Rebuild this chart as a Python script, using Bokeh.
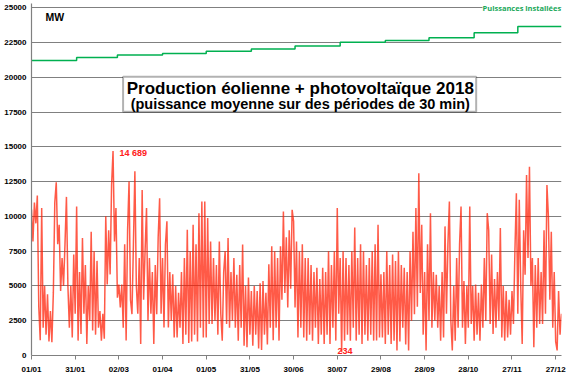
from bokeh.plotting import figure
from bokeh.models import FixedTicker, Label, BoxAnnotation, Range1d
from bokeh.embed import file_html
from bokeh.resources import INLINE

# ---- data ----
# daily samples of the half-hourly production, alternating highs and lows (MW)
prod_mw = [
    10500, 8200, 11000, 9500, 11500, 3500, 1100, 10600, 2000, 5000,
    1500, 4400, 1000, 3200, 950, 4500, 11000, 12450, 8000, 9400,
    4640, 7000, 5000, 8000, 11400, 5000, 2000, 5000, 1300, 7260,
    3000, 10700, 1070, 6000, 1550, 8450, 3000, 6500, 830, 5000,
    2500, 8900, 1800, 7500, 1500, 6800, 2000, 3200, 1070, 3000,
    1200, 10000, 5100, 9000, 5830, 12250, 14689, 8200, 10600, 4160,
    5100, 3450, 5100, 2000, 8000, 1070, 9000, 12500, 4000, 2970,
    8000, 13250, 5000, 3000, 7000, 830, 11900, 4000, 7500, 10600,
    2500, 7000, 3000, 6000, 830, 6500, 2970, 8500, 11300, 3000,
    7000, 2020, 8000, 9640, 2020, 6000, 2500, 5830, 1300, 5000,
    1300, 4500, 2000, 6000, 830, 7000, 1500, 9040, 900, 7500,
    1000, 9400, 1500, 8000, 1000, 10230, 2000, 11070, 1300, 11070,
    1300, 9880, 2260, 8200, 2260, 7000, 2500, 6500, 1500, 8200,
    3000, 1070, 6000, 7500, 2260, 8450, 2000, 6000, 2500, 7000,
    2000, 5800, 1070, 6500, 2000, 7970, 700, 5000, 600, 5600,
    1500, 4640, 700, 5000, 1500, 4640, 500, 5200, 400, 5360,
    1500, 4500, 800, 6550, 2000, 7850, 1100, 7500, 2000, 7000,
    1070, 7850, 4000, 10350, 4500, 8500, 3450, 9000, 4800, 10470,
    9640, 3450, 8200, 1300, 7500, 2000, 8000, 1300, 7000, 1070,
    7000, 1500, 6500, 1070, 6000, 2000, 6300, 830, 5500, 1500,
    6300, 830, 6000, 1500, 7500, 830, 6500, 2000, 7500, 1070,
    10600, 3000, 7000, 234, 7500, 1070, 7000, 1500, 6500, 1070,
    7500, 2000, 9200, 1070, 7000, 1500, 8000, 830, 7500, 1500,
    6500, 1070, 7000, 1500, 7500, 1070, 8000, 1070, 9400, 1300,
    5830, 1300, 6000, 830, 7500, 1500, 6500, 830, 7260, 1070,
    6800, 360, 7500, 1000, 6500, 2000, 6300, 800, 6000, 360,
    7500, 2500, 8900, 2970, 10600, 3500, 13100, 4500, 9400, 1500,
    6000, 360, 8000, 2500, 10230, 2000, 6000, 2500, 5800, 2000,
    5000, 1070, 6000, 1300, 9280, 3000, 8000, 11070, 2500, 360,
    5000, 1070, 7000, 2000, 8000, 10700, 2000, 5360, 830, 5000,
    2000, 10700, 2260, 5000, 1070, 5100, 1500, 4500, 1070, 5100,
    2000, 7000, 2500, 10230, 9000, 2260, 7260, 1550, 5500, 2000,
    6000, 2500, 9160, 1300, 5000, 1070, 4640, 1300, 4000, 1500,
    4640, 2260, 7500, 11660, 3000, 11200, 5000, 830, 9000, 5800,
    12970, 7000, 13570, 5000, 7000, 600, 6500, 2000, 7000, 2260,
    6000, 2260, 9000, 3000, 12260, 10000, 4000, 8900, 2000, 6000,
    1000, 360, 4640, 1500, 3000,
]
prod_day = list(range(len(prod_mw)))

# installed capacity, monthly steps (MW)
month_start_day = [0, 31, 59, 90, 120, 151, 181, 212, 243, 273, 304, 334]
installed_mw = [21200, 21420, 21590, 21710, 21870, 22030, 22250, 22520,
                22640, 22830, 23190, 23650]

x_tick_days = [0, 30, 60, 90, 120, 150, 180, 210, 240, 270, 300, 330, 360]
x_tick_labels = ["01/01", "31/01", "02/03", "01/04", "01/05", "31/05", "30/06",
                 "30/07", "29/08", "28/09", "28/10", "27/11", "27/12"]
y_ticks = [0, 2500, 5000, 7500, 10000, 12500, 15000, 17500, 20000, 22500, 25000]
y_tick_labels = [str(v) for v in y_ticks]

max_day, max_mw = 56, 14689
min_day, min_mw = 213, 234

FONT = "Liberation Sans"

p = figure(width=568, height=377, output_backend="svg", toolbar_location=None,
           x_range=Range1d(0, 364), y_range=Range1d(0, 25300),
           min_border_left=31, min_border_right=7, min_border_top=3,
           min_border_bottom=22)
p.outline_line_color = None
p.background_fill_color = "white"
p.border_fill_color = "white"

# grids
p.xgrid.grid_line_color = None
p.ygrid.ticker = FixedTicker(ticks=y_ticks)
p.ygrid.grid_line_color = "#808080"
p.ygrid.grid_line_width = 1.2

# axes
p.xaxis.ticker = FixedTicker(ticks=x_tick_days)
p.xaxis.major_label_overrides = dict(zip(x_tick_days, x_tick_labels))
p.yaxis.ticker = FixedTicker(ticks=y_ticks)
p.yaxis.major_label_overrides = dict(zip(y_ticks, y_tick_labels))
for ax in (p.xaxis, p.yaxis):
    ax.axis_line_color = "#808080"
    ax.axis_line_width = 1.2
    ax.minor_tick_line_color = None
    ax.minor_tick_out = 0
    ax.minor_tick_in = 0
    ax.major_label_text_font = FONT
    ax.major_label_text_font_style = "bold"
    ax.major_label_text_font_size = "8px"
    ax.major_label_text_color = "black"
p.yaxis.major_tick_line_color = None
p.yaxis.major_tick_out = 0
p.yaxis.major_tick_in = 0
p.yaxis.major_label_standoff = 5
p.xaxis.major_tick_line_color = "#808080"
p.xaxis.major_tick_out = 4
p.xaxis.major_tick_in = 0
p.xaxis.major_label_standoff = 5

# series
p.line(prod_day, prod_mw, line_color="#ff1a00", line_width=1.5, line_alpha=0.72)
step_x = month_start_day + [364]
step_y = installed_mw + [installed_mw[-1]]
p.step(step_x, step_y, mode="after", line_color="#00b050", line_width=1.5)

# title box
p.add_layout(BoxAnnotation(left=62.9, right=305.4, bottom=17515, top=20030,
                           fill_color="white", fill_alpha=1.0,
                           line_color="black", line_width=2))
p.add_layout(Label(x=184.6, y=19195, text="Production éolienne + photovoltaïque 2018",
                   text_align="center", text_baseline="middle", text_font=FONT,
                   text_font_style="bold", text_font_size="17px", text_color="black"))
p.add_layout(Label(x=184.6, y=18070, text="(puissance moyenne sur des périodes de 30 min)",
                   text_align="center", text_baseline="middle", text_font=FONT,
                   text_font_style="bold", text_font_size="14.5px", text_color="black"))

p.add_layout(Label(x=9.6, y=24340, text="MW", text_align="left", text_baseline="middle",
                   text_font=FONT, text_font_style="bold", text_font_size="10.5px",
                   text_color="black"))
p.add_layout(Label(x=363.8, y=25000, text="Puissances installées", text_align="right",
                   text_baseline="middle", text_font="Open Sans", text_font_style="bold",
                   text_font_size="7.5px", text_color="#1aa85a",
                   background_fill_color="white", background_fill_alpha=1.0))
p.add_layout(Label(x=max_day + 4.4, y=max_mw - 120, text="14 689", text_align="left",
                   text_baseline="middle", text_font=FONT, text_font_style="bold",
                   text_font_size="9px", text_color="#ff2020"))
p.add_layout(Label(x=min_day - 2.8, y=min_mw + 90, text="234", text_align="left",
                   text_baseline="middle", text_font=FONT, text_font_style="bold",
                   text_font_size="9px", text_color="#ff2020"))

open("out.html", "w").write(file_html(p, INLINE))
